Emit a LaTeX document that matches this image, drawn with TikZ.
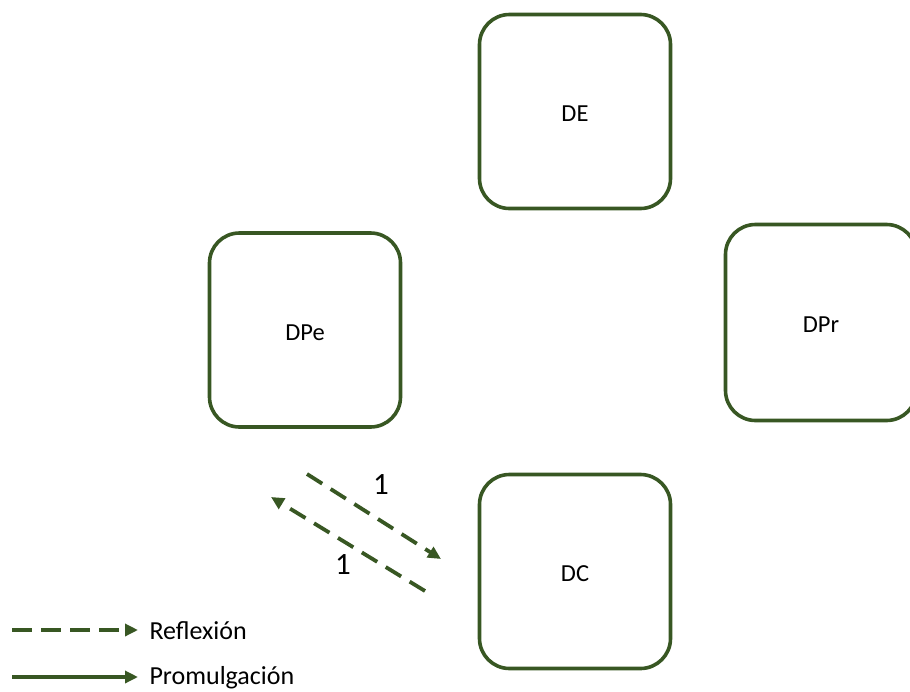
\documentclass[tikz,border=0pt]{standalone}
\usepackage{fontspec}
\setmainfont{Carlito}
\usetikzlibrary{arrows.meta}
\definecolor{leaf}{RGB}{56,87,35}
\begin{document}
\begin{tikzpicture}[x=1pt,y=-1pt,
  areabox/.style={draw=leaf, line width=3.6pt, rounded corners=30pt,
    minimum width=191pt, minimum height=194pt, inner sep=0pt,
    text height=20pt, text depth=0pt,
    font=\fontsize{24.5}{28}\selectfont, text=black},
  flowline/.style={draw=leaf, line width=3.8pt, -{Triangle[length=13pt,width=12pt]}},
  reflectline/.style={flowline, dash pattern=on 18pt off 10pt},
  numlabel/.style={font=\fontsize{31}{34}\selectfont, text=black},
  legendtext/.style={font=\fontsize{26}{30}\selectfont, text=black, anchor=west}]
  \useasboundingbox (0,0) rectangle (910,691);

  % domain boxes
  \node[areabox] (DE)  at (575,111.5) {DE};
  \node[areabox] (DPe) at (305,330)   {DPe};
  \node[areabox, minimum height=196pt] (DPr) at (821,322.5) {DPr};
  \node[areabox] (DC)  at (575,571.5) {DC};

  % reflection links between DPe and DC
  \coordinate (r1s) at (307,474);
  \coordinate (r1e) at (441,559);
  \coordinate (r2s) at (425,591);
  \coordinate (r2e) at (271,497);
  \draw[reflectline] (r1s) -- (r1e);
  \draw[reflectline] (r2s) -- (r2e);
  \node[numlabel] (n1) at (381,485) {1};
  \node[numlabel] (n2) at (343,565) {1};

  % legend
  \coordinate (l1s) at (12,630);
  \coordinate (l1e) at (138,630);
  \coordinate (l2s) at (12,677);
  \coordinate (l2e) at (138,677);
  \draw[flowline, dash pattern=on 20pt off 9pt] (l1s) -- (l1e);
  \draw[flowline] (l2s) -- (l2e);
  \node[legendtext] (lr) at (146,631) {Reflexión};
  \node[legendtext] (lp) at (146,678) {Promulgación};
\end{tikzpicture}
\end{document}
